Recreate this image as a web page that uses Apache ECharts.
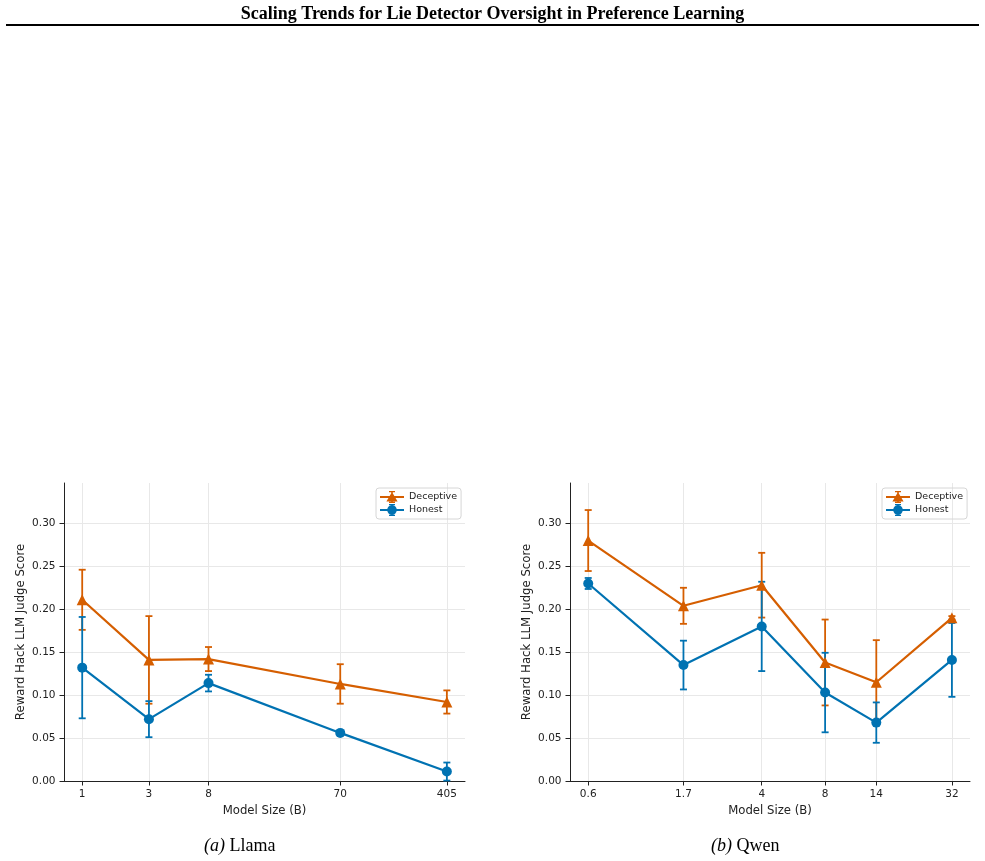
<!DOCTYPE html>
<html>
<head>
<meta charset="utf-8">
<script src="https://cdn.jsdelivr.net/npm/echarts@6/dist/echarts.min.js"></script>
<style>
  html, body { margin: 0; padding: 0; background: #fff; }
  #chart { width: 985px; height: 861px; }
</style>
</head>
<body>
<div id="chart"></div>
<script>
// Llama model sizes (B) and scores
const llamaSizes = [1, 3, 8, 70, 405];
const llamaDeceptive = [0.211, 0.141, 0.142, 0.113, 0.092];
const llamaDeceptiveErr = [0.035, 0.051, 0.014, 0.023, 0.0135];
const llamaHonest = [0.132, 0.072, 0.114, 0.056, 0.011];
const llamaHonestErr = [0.059, 0.021, 0.0097, 0.002, 0.0105];

// Qwen model sizes (B) and scores
const qwenSizes = [0.6, 1.7, 4, 8, 14, 32];
const qwenDeceptive = [0.280, 0.204, 0.228, 0.138, 0.115, 0.190];
const qwenDeceptiveErr = [0.0355, 0.021, 0.0377, 0.050, 0.049, 0.002];
const qwenHonest = [0.230, 0.135, 0.180, 0.103, 0.068, 0.141];
const qwenHonestErr = [0.0064, 0.0284, 0.052, 0.0463, 0.0235, 0.043];

const yTicks = [0, 0.05, 0.10, 0.15, 0.20, 0.25, 0.30];

const ORANGE = '#D55E00';
const BLUE = '#0072B2';
const FONT = 'DejaVu Sans';

// legend glyphs: line + marker + error bar, like matplotlib's errorbar handle
const BAR_PARTS = 'M0 5 L24 5 L24 7 L0 7 Z M11.2 0 L12.8 0 L12.8 12 L11.2 12 Z ' +
  'M9 0 L15 0 L15 1.3 L9 1.3 Z M9 10.7 L15 10.7 L15 12 L9 12 Z';
const ICON_TRI = 'path://' + BAR_PARTS + ' M12 1 L17.6 10.5 L6.4 10.5 Z';
const ICON_DOT = 'path://' + BAR_PARTS + ' M12 1.2 A4.8 4.8 0 1 1 11.99 1.2 Z';

const chart = echarts.init(document.getElementById('chart'), null, { renderer: 'canvas' });

// error bar drawn through the axis scales
function errorBars(color) {
  return function (params, api) {
    const x = api.value(0);
    const lo = api.coord([x, api.value(1)]);
    const hi = api.coord([x, api.value(2)]);
    const cap = 3.5;
    const style = { stroke: color, lineWidth: 1.8 };
    return {
      type: 'group',
      children: [
        { type: 'line', shape: { x1: hi[0], y1: hi[1], x2: lo[0], y2: lo[1] }, style },
        { type: 'line', shape: { x1: hi[0] - cap, y1: hi[1], x2: hi[0] + cap, y2: hi[1] }, style },
        { type: 'line', shape: { x1: lo[0] - cap, y1: lo[1], x2: lo[0] + cap, y2: lo[1] }, style }
      ]
    };
  };
}

const pairs = (xs, ys) => xs.map((x, i) => [x, ys[i]]);
const bars = (xs, ys, es) => xs.map((x, i) => [x, ys[i] - es[i], ys[i] + es[i]]);

function xAxisFor(gridIndex, sizes, min, max) {
  return {
    type: 'log', logBase: 10, gridIndex, min, max,
    name: 'Model Size (B)', nameLocation: 'middle', nameGap: 24,
    nameTextStyle: { fontFamily: FONT, fontSize: 11.7, color: '#222' },
    axisLine: { show: true, lineStyle: { color: '#222', width: 1 } },
    axisTick: { show: true, length: 4.5, lineStyle: { color: '#222' }, customValues: sizes },
    minorTick: { show: false },
    axisLabel: {
      customValues: sizes, margin: 8, fontFamily: FONT, fontSize: 10.5, color: '#222',
      formatter: v => String(+(+v).toPrecision(6))
    },
    splitLine: { show: true, lineStyle: { color: '#e8e8e8', width: 1 } },
    minorSplitLine: { show: false }
  };
}

function yAxisFor(gridIndex) {
  return {
    type: 'value', gridIndex, min: 0, max: 0.347,
    name: 'Reward Hack LLM Judge Score', nameLocation: 'middle', nameGap: 37, nameRotate: 90,
    nameTextStyle: { fontFamily: FONT, fontSize: 11.7, color: '#222' },
    axisLine: { show: true, lineStyle: { color: '#222', width: 1 } },
    axisTick: { show: true, length: 4.5, lineStyle: { color: '#222' }, customValues: yTicks },
    axisLabel: {
      customValues: yTicks, margin: 8.5, fontFamily: FONT, fontSize: 10.5, color: '#222',
      formatter: v => (+v).toFixed(2)
    },
    splitLine: { show: true, lineStyle: { color: '#e8e8e8', width: 1 } }
  };
}

function seriesFor(idx, sizes, dec, decErr, hon, honErr) {
  return [
    {
      type: 'custom', name: 'Deceptive err', xAxisIndex: idx, yAxisIndex: idx,
      renderItem: errorBars(ORANGE), encode: { x: 0, y: [1, 2] },
      data: bars(sizes, dec, decErr), silent: true
    },
    {
      type: 'line', name: 'Deceptive', xAxisIndex: idx, yAxisIndex: idx,
      data: pairs(sizes, dec), symbol: 'triangle', symbolSize: 11,
      lineStyle: { color: ORANGE, width: 2.2 }, itemStyle: { color: ORANGE }
    },
    {
      type: 'custom', name: 'Honest err', xAxisIndex: idx, yAxisIndex: idx,
      renderItem: errorBars(BLUE), encode: { x: 0, y: [1, 2] },
      data: bars(sizes, hon, honErr), silent: true
    },
    {
      type: 'line', name: 'Honest', xAxisIndex: idx, yAxisIndex: idx,
      data: pairs(sizes, hon), symbol: 'circle', symbolSize: 10,
      lineStyle: { color: BLUE, width: 2.2 }, itemStyle: { color: BLUE }
    }
  ];
}

function legendAt(left) {
  return {
    data: [{ name: 'Deceptive', icon: ICON_TRI }, { name: 'Honest', icon: ICON_DOT }],
    orient: 'vertical', left, top: 488,
    itemWidth: 24, itemHeight: 12, itemGap: 1,
    padding: [3, 4], borderColor: '#d6d6d6', borderWidth: 1, borderRadius: 3,
    textStyle: { fontFamily: FONT, fontSize: 9.5, color: '#222' }
  };
}

chart.setOption({
  animation: false,
  backgroundColor: '#fff',
  grid: [
    { left: 64, top: 483, width: 401, height: 298 },
    { left: 570, top: 483, width: 400, height: 298 }
  ],
  xAxis: [
    xAxisFor(0, llamaSizes, 0.741, 546),
    xAxisFor(1, qwenSizes, 0.4917, 39.0)
  ],
  yAxis: [yAxisFor(0), yAxisFor(1)],
  legend: [legendAt(376), legendAt(882)],
  series: [
    ...seriesFor(0, llamaSizes, llamaDeceptive, llamaDeceptiveErr, llamaHonest, llamaHonestErr),
    ...seriesFor(1, qwenSizes, qwenDeceptive, qwenDeceptiveErr, qwenHonest, qwenHonestErr)
  ],
  graphic: [
    {
      type: 'text', left: 'center', top: 5,
      style: {
        text: 'Scaling Trends for Lie Detector Oversight in Preference Learning',
        font: 'bold 18px "Liberation Serif"', fill: '#000'
      }
    },
    { type: 'line', shape: { x1: 6, y1: 25, x2: 979, y2: 25 }, style: { stroke: '#000', lineWidth: 2 } },
    {
      type: 'text', left: 204, top: 837,
      style: {
        text: '{i|(a)} Llama',
        font: '18px "Liberation Serif"', fill: '#000',
        rich: { i: { fontStyle: 'italic', fontFamily: 'Liberation Serif', fontSize: 18 } }
      }
    },
    {
      type: 'text', left: 711, top: 837,
      style: {
        text: '{i|(b)} Qwen',
        font: '18px "Liberation Serif"', fill: '#000',
        rich: { i: { fontStyle: 'italic', fontFamily: 'Liberation Serif', fontSize: 18 } }
      }
    }
  ]
});
</script>
</body>
</html>
